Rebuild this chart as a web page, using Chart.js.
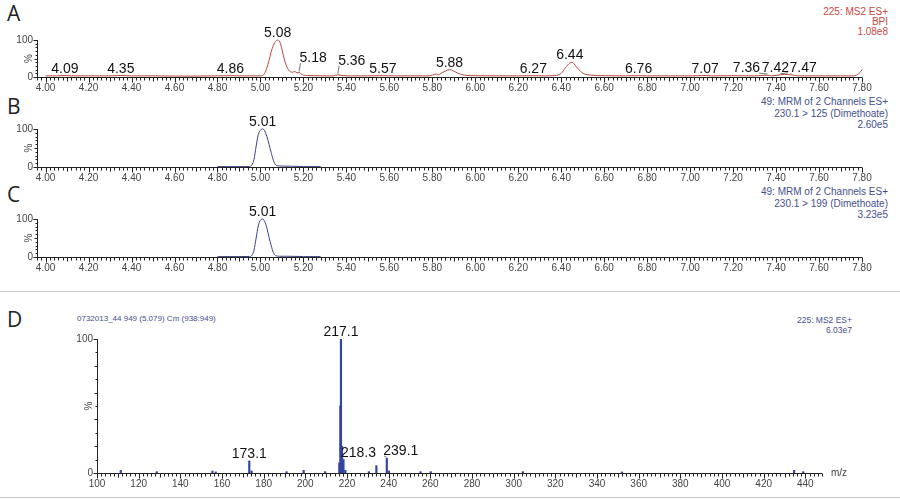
<!DOCTYPE html>
<html>
<head>
<meta charset="utf-8">
<title>Dimethoate LC-MS/MS</title>
<script src="https://cdn.jsdelivr.net/npm/chart.js@4.4.1/dist/chart.umd.min.js"></script>
<style>
  body { margin: 0; width: 900px; height: 499px; background: #fff; position: relative; overflow: hidden;
         font-family: 'Liberation Sans', Arial, sans-serif; }
  canvas { position: absolute; left: 0; }
  .letter { position: absolute; left: 7px; font: 21px 'Open Sans', sans-serif; line-height: 21px; color: #222; }
  .note { position: absolute; text-align: right; white-space: nowrap; }
  .red { color: #c9483f; font-size: 10px; line-height: 10px; right: 12px; }
  .blue { color: #45508c; font-size: 10px; line-height: 11.5px; right: 12px; }
  .rule { position: absolute; left: 0; width: 900px; height: 1px; background: #c8c8c8; }
</style>
</head>
<body>

<div class="letter" style="top:3px">A</div>
<div class="letter" style="top:96px">B</div>
<div class="letter" style="top:184px">C</div>
<div class="letter" style="top:309px">D</div>

<div class="note red" style="top:7px">225: MS2 ES+<br>BPI<br>1.08e8</div>
<div class="note blue" style="top:96px">49: MRM of 2 Channels ES+<br>230.1 &gt; 125 (Dimethoate)<br>2.60e5</div>
<div class="note blue" style="top:186px">49: MRM of 2 Channels ES+<br>230.1 &gt; 199 (Dimethoate)<br>3.23e5</div>
<div class="note blue" style="top:315px; right:48px; font-size:8.5px; line-height:10px">225: MS2 ES+<br>6.03e7</div>
<div class="note" style="top:314px; left:77px; text-align:left; font-size:8px; line-height:10px; color:#45508c">0732013_44 949 (5.079) Cm (938:949)</div>

<div class="rule" style="top:291px"></div>
<div class="rule" style="top:497px"></div>

<canvas id="chartA" width="900" height="97" style="top:0px"></canvas>
<canvas id="chartB" width="900" height="97" style="top:90px"></canvas>
<canvas id="chartC" width="900" height="97" style="top:180px"></canvas>
<canvas id="chartD" width="900" height="204" style="top:295px"></canvas>

<script>
// A: BPI chromatogram (MS2 ES+), time in min, intensity in %
const timesA = [4.00, 4.05, 4.09, 4.12, 4.20, 4.30, 4.35, 4.40, 4.50, 4.60, 4.70, 4.80, 4.86, 4.90, 4.95,
  5.00, 5.01, 5.02, 5.03, 5.04, 5.05, 5.06, 5.07, 5.08, 5.09, 5.10, 5.11, 5.12, 5.13, 5.14, 5.15, 5.16,
  5.17, 5.18, 5.19, 5.20, 5.22, 5.25, 5.30, 5.34, 5.36, 5.38, 5.42, 5.50, 5.57, 5.62, 5.70, 5.78, 5.80,
  5.82, 5.83, 5.84, 5.86, 5.88, 5.90, 5.92, 5.95, 6.00, 6.10, 6.20, 6.27, 6.32, 6.37, 6.40, 6.42, 6.44,
  6.45, 6.47, 6.49, 6.51, 6.54, 6.60, 6.70, 6.76, 6.80, 6.90, 7.00, 7.07, 7.10, 7.20, 7.30, 7.36, 7.38,
  7.42, 7.44, 7.47, 7.50, 7.60, 7.70, 7.75, 7.77, 7.79, 7.80];
const intensA = [3, 3, 4, 3, 3, 3, 4, 3, 3, 2.5, 2.5, 3, 3.5, 3, 3,
  3, 4, 10, 25, 45, 68, 85, 96, 100, 95, 75, 50, 32, 20, 14, 13, 15,
  11, 13, 8, 5, 4, 3.5, 3, 3, 6, 4, 3, 3, 3.5, 3, 3, 3, 5,
  8, 6, 10, 16, 20, 16, 10, 5, 3.5, 3, 3, 3.5, 3, 4, 10, 25, 38,
  40, 28, 15, 8, 5, 3.5, 3, 3.5, 3, 3, 3, 4, 3, 3.5, 3, 5, 3,
  6, 7, 6, 3, 3, 3, 3, 4, 12, 20];
const peaksA = [4.09, 4.35, 4.86, 5.08, 5.18, 5.36, 5.57, 5.88, 6.27, 6.44, 6.76, 7.07, 7.36, 7.42, 7.47];

// B: MRM 230.1 > 125
const timesB = [4.80, 4.85, 4.90, 4.95, 4.96, 4.97, 4.98, 4.99, 5.00, 5.01, 5.02, 5.03, 5.04, 5.05,
  5.06, 5.07, 5.08, 5.10, 5.15, 5.18, 5.20, 5.28];
const intensB = [1, 1, 1, 1.5, 5, 20, 55, 85, 97, 100, 95, 80, 60, 38,
  18, 6, 3, 2.5, 2, 1.5, 1, 1];
const peaksB = [5.01];

// C: MRM 230.1 > 199
const timesC = [4.80, 4.90, 4.95, 4.96, 4.97, 4.98, 4.99, 5.00, 5.01, 5.02, 5.03, 5.04, 5.05, 5.06,
  5.07, 5.09, 5.12, 5.18, 5.20, 5.28];
const intensC = [1, 1, 1.5, 4, 18, 50, 82, 97, 100, 93, 76, 52, 30, 12,
  4, 2, 2, 1.5, 1, 1];
const peaksC = [5.01];

// D: product ion spectrum at 5.079 min, m/z vs %
const mzD = [111.4, 128.7, 155.4, 157.0, 173.1, 174.2, 191.0, 199.2, 209.5, 216.3, 216.8, 217.1, 217.6,
  218.3, 219.2, 230.5, 234.1, 239.1, 240.1, 255.3, 260.2, 304.4, 352.0, 434.6, 439.0];
const intD = [2, 1, 1.5, 0.8, 9, 1.5, 1, 2, 1, 7.5, 50, 100, 20,
  10, 2, 1, 5.5, 11, 1.5, 1, 1, 1, 0.8, 2, 1];
const peaksD = [173.1, 217.1, 218.3, 239.1];

// tick labels
const timeTicks = [4.00, 4.20, 4.40, 4.60, 4.80, 5.00, 5.20, 5.40, 5.60, 5.80,
  6.00, 6.20, 6.40, 6.60, 6.80, 7.00, 7.20, 7.40, 7.60, 7.80];
const mzTicks = [100, 120, 140, 160, 180, 200, 220, 240, 260, 280, 300, 320, 340, 360, 380, 400, 420, 440];
const pctTicks = [0, 100];

Chart.defaults.font.family = "'Liberation Sans', Arial, sans-serif";

// axis lines, minor ticks and the rotated % label, MassLynx style
const msAxes = {
  id: 'msAxes',
  afterDraw(chart, args, o) {
    const { ctx, chartArea: a, scales: { x, y } } = chart;
    ctx.save();
    ctx.strokeStyle = '#222';
    ctx.lineWidth = 1;
    ctx.beginPath();
    const ax = Math.round(a.left) + 0.5, ay = Math.round(a.bottom) + 0.5;
    ctx.moveTo(ax, Math.round(a.top));
    ctx.lineTo(ax, ay);
    ctx.lineTo(Math.round(a.right), ay);
    // x ticks
    const k0 = Math.ceil(x.min / o.xStep - 1e-6), k1 = Math.floor(x.max / o.xStep + 1e-6);
    for (let k = k0; k <= k1; k++) {
      const px = Math.round(x.getPixelForValue(k * o.xStep)) + 0.5;
      const len = k % o.xMajor === 0 ? 5 : (k % o.xMid === 0 ? 4 : 3);
      ctx.moveTo(px, ay);
      ctx.lineTo(px, ay + len);
    }
    // y ticks
    for (let v = 0; v <= 100; v += o.yStep) {
      const py = Math.round(y.getPixelForValue(v)) + 0.5;
      const len = (v === 0 || v === 100) ? 4 : (v % o.yMajor === 0 ? 3 : 2);
      ctx.moveTo(ax, py);
      ctx.lineTo(ax - len, py);
    }
    ctx.stroke();

    ctx.fillStyle = '#444';
    ctx.font = "10px 'Liberation Sans', Arial, sans-serif";
    ctx.textAlign = 'center';
    ctx.textBaseline = 'middle';
    ctx.translate(a.left - 8, (a.top + a.bottom) / 2);
    ctx.rotate(-Math.PI / 2);
    ctx.fillText('%', 0, 0);
    ctx.restore();

    if (o.unit) {
      ctx.save();
      ctx.fillStyle = '#444';
      ctx.font = "10px 'Liberation Sans', Arial, sans-serif";
      ctx.textBaseline = 'middle';
      ctx.fillText(o.unit, a.right + 9, a.bottom);
      ctx.restore();
    }
  }
};

// peak apex labels, placed above the highest point near each listed peak
const peakLabels = {
  id: 'peakLabels',
  afterDatasetsDraw(chart, args, o) {
    const { ctx, scales: { x, y } } = chart;
    const pts = chart.data.datasets[0].data;
    ctx.save();
    ctx.font = "14px 'Liberation Sans', Arial, sans-serif";
    ctx.fillStyle = '#111';
    ctx.strokeStyle = '#555';
    ctx.lineWidth = 0.8;
    ctx.textAlign = 'center';
    ctx.textBaseline = 'alphabetic';
    o.peaks.forEach(p => {
      let top = 0;
      pts.forEach(d => { if (Math.abs(d.x - p) <= o.win && d.y > top) top = d.y; });
      const text = p.toFixed(o.digits);
      const [dx, dy] = o.nudge[text] || [0, 0];
      const px = x.getPixelForValue(p), py = y.getPixelForValue(top);
      const lx = px + dx, ly = py - 3 + dy;
      ctx.fillText(text, lx, ly);
      if (dx || dy) {
        const w = ctx.measureText(text).width;
        const ex = dx > 0 ? lx - w / 2 + 1 : lx + w / 2 - 1;
        ctx.beginPath();
        ctx.moveTo(px, py - 1);
        ctx.lineTo(ex, ly + 1);
        ctx.stroke();
      }
    });
    ctx.restore();
  }
};

function pctAxis(width) {
  return {
    min: 0, max: 100,
    grid: { display: false, drawTicks: false }, border: { display: false },
    afterBuildTicks: s => { s.ticks = pctTicks.map(v => ({ value: v })); },
    afterFit: s => { s.width = width; },
    ticks: { padding: 4, color: '#444', font: { size: 10 }, callback: v => String(v) }
  };
}

function chromatogram(id, times, intens, peaks, color, padTop, nudge) {
  return new Chart(document.getElementById(id), {
    type: 'line',
    data: {
      datasets: [{
        data: times.map((t, i) => ({ x: t, y: intens[i] })),
        borderColor: color, borderWidth: 1, pointRadius: 0,
        cubicInterpolationMode: 'monotone', clip: false
      }]
    },
    options: {
      responsive: false, animation: false,
      layout: { padding: { top: padTop, right: 38, left: 0, bottom: 0 } },
      plugins: {
        legend: { display: false }, tooltip: { enabled: false },
        msAxes: { xStep: 0.02, xMid: 5, xMajor: 10, yStep: 10, yMajor: 50 },
        peakLabels: { peaks: peaks, win: 0.015, digits: 2, nudge: nudge || {} }
      },
      scales: {
        x: {
          type: 'linear', min: 3.96, max: 7.80,
          grid: { display: false, drawTicks: false }, border: { display: false },
          afterBuildTicks: s => { s.ticks = timeTicks.map(v => ({ value: v })); },
          afterFit: s => { s.height = 20; },
          ticks: { autoSkip: false, maxRotation: 0, padding: 5, color: '#444', font: { size: 10 },
                   callback: v => v.toFixed(2) }
        },
        y: pctAxis(37)
      }
    },
    plugins: [msAxes, peakLabels]
  });
}

chromatogram('chartA', timesA, intensA, peaksA, '#b8483f', 40,
  { '5.18': [14, -7], '5.36': [14, -7], '7.36': [-21, 0], '7.42': [-5, 0], '7.47': [12, 0] });
chromatogram('chartB', timesB, intensB, peaksB, '#3b4183', 39);
chromatogram('chartC', timesC, intensC, peaksC, '#3b4183', 39);

new Chart(document.getElementById('chartD'), {
  type: 'bar',
  data: {
    datasets: [{
      data: mzD.map((m, i) => ({ x: m, y: intD[i] })),
      backgroundColor: '#33449f', barThickness: 1.5, grouped: false
    }]
  },
  options: {
    responsive: false, animation: false,
    layout: { padding: { top: 44, right: 78, left: 0, bottom: 0 } },
    plugins: {
      legend: { display: false }, tooltip: { enabled: false },
      msAxes: { xStep: 2, xMid: 5, xMajor: 10, yStep: 10, yMajor: 20, unit: 'm/z' },
      peakLabels: { peaks: peaksD, win: 0.3, digits: 1, nudge: { '218.3': [15, 0], '239.1': [14, 0] } }
    },
    scales: {
      x: {
        type: 'linear', min: 100, max: 448, offset: false,
        grid: { display: false, drawTicks: false }, border: { display: false },
        afterBuildTicks: s => { s.ticks = mzTicks.map(v => ({ value: v })); },
        afterFit: s => { s.height = 26; },
        ticks: { autoSkip: false, maxRotation: 0, padding: 5, color: '#444', font: { size: 10 },
                 callback: v => String(v) }
      },
      y: pctAxis(97)
    }
  },
  plugins: [msAxes, peakLabels]
});
</script>
</body>
</html>
